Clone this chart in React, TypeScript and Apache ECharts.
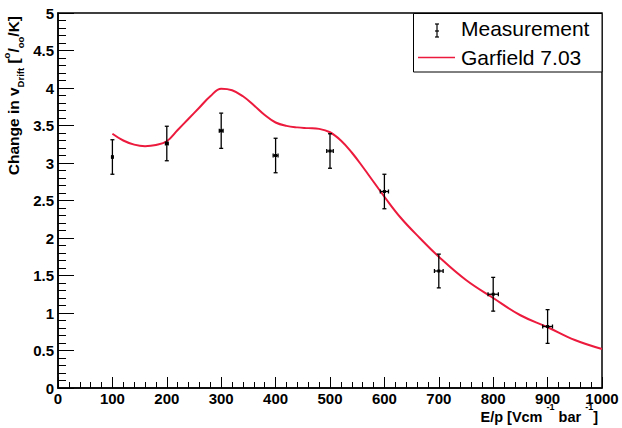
import React, { useEffect, useRef } from "react";
import * as echarts from "echarts";

const xMeas = [100, 200, 300, 400, 500, 600, 700, 800, 900];
const yMeas = [3.08, 3.26, 3.43, 3.1, 3.16, 2.62, 1.56, 1.25, 0.82];
const yErr = [0.23, 0.23, 0.235, 0.23, 0.23, 0.23, 0.225, 0.225, 0.225];
const xErr = [1, 2.5, 3.5, 4.5, 6, 7.5, 8, 9.5, 9];

const curveX = [100, 120, 140, 160, 180, 200, 220, 240, 260, 280, 300, 320, 340, 360, 380, 400, 420, 440, 460, 480, 500, 520, 540, 560, 580, 600, 630, 665, 700, 750, 800, 850, 900, 950, 1000];
const curveY = [3.39, 3.3, 3.245, 3.225, 3.24, 3.29, 3.44, 3.59, 3.74, 3.89, 3.99, 3.97, 3.89, 3.77, 3.64, 3.54, 3.495, 3.475, 3.465, 3.455, 3.41, 3.3, 3.14, 2.95, 2.75, 2.55, 2.27, 2.0, 1.75, 1.44, 1.2, 0.97, 0.81, 0.64, 0.52];

const FONT = "'Liberation Sans', Arial, Helvetica, sans-serif";
const RED = "#ec1a3c";

export default function App() {
  const ref = useRef<HTMLDivElement>(null);
  useEffect(() => {
    if (!ref.current) return;
    const chart = echarts.init(ref.current, null, { renderer: "svg" });
    const measData = xMeas.map((x, i) => [x, yMeas[i], yErr[i], xErr[i]]);
    const curveData = curveX.map((x, i) => [x, curveY[i]]);
    const option: any = {
      animation: false,
      backgroundColor: "#fff",
      grid: {
        left: 58, right: 20, top: 13, bottom: 40,
        show: true, borderColor: "#000", borderWidth: 1.5,
        backgroundColor: "transparent",
        containLabel: false, outerBoundsMode: "none",
      },
      xAxis: {
        type: "value", min: 0, max: 1000, interval: 100,
        axisLine: { show: true, onZero: false, lineStyle: { color: "#000", width: 1.5 } },
        axisTick: { show: true, inside: true, length: 11, lineStyle: { color: "#000", width: 1 } },
        minorTick: { show: true, splitNumber: 5, length: 6, lineStyle: { color: "#000", width: 1 } },
        splitLine: { show: false },
        axisLabel: { color: "#000", fontFamily: FONT, fontWeight: "bold", fontSize: 15, lineHeight: 11, margin: 5, formatter: (v: number) => String(v) },
      },
      yAxis: {
        type: "value", min: 0, max: 5, interval: 0.5,
        axisLine: { show: true, onZero: false, lineStyle: { color: "#000", width: 1.5 } },
        axisTick: { show: true, inside: true, length: 16, lineStyle: { color: "#000", width: 1 } },
        minorTick: { show: true, splitNumber: 5, length: 8, lineStyle: { color: "#000", width: 1 } },
        splitLine: { show: false },
        axisLabel: { color: "#000", fontFamily: FONT, fontWeight: "bold", fontSize: 15, margin: 4, formatter: (v: number) => String(v) },
      },
      series: [
        {
          type: "line",
          name: "Garfield 7.03",
          data: curveData,
          smooth: 0.4,
          showSymbol: false,
          lineStyle: { color: RED, width: 2 },
          z: 2,
        },
        {
          type: "custom",
          name: "Measurement",
          data: measData,
          z: 3,
          renderItem: (params: any, api: any) => {
            const x = api.value(0), y = api.value(1), ye = api.value(2), xe = api.value(3);
            const c = api.coord([x, y]);
            const t = api.coord([x, y + ye]);
            const b = api.coord([x, y - ye]);
            const l = api.coord([x - xe, y]);
            const r = api.coord([x + xe, y]);
            const st = { stroke: "#000", lineWidth: 1.3 };
            return {
              type: "group",
              children: [
                { type: "line", shape: { x1: t[0], y1: t[1], x2: b[0], y2: b[1] }, style: st },
                { type: "line", shape: { x1: t[0] - 2, y1: t[1], x2: t[0] + 2, y2: t[1] }, style: st },
                { type: "line", shape: { x1: b[0] - 2, y1: b[1], x2: b[0] + 2, y2: b[1] }, style: st },
                { type: "line", shape: { x1: l[0], y1: l[1], x2: r[0], y2: r[1] }, style: st },
                { type: "line", shape: { x1: l[0], y1: l[1] - 2, x2: l[0], y2: l[1] + 2 }, style: st },
                { type: "line", shape: { x1: r[0], y1: r[1] - 2, x2: r[0], y2: r[1] + 2 }, style: st },
                { type: "rect", shape: { x: c[0] - 1.5, y: c[1] - 1.5, width: 3, height: 3 }, style: { fill: "#000" } },
              ],
            };
          },
        },
      ],
      graphic: [
        {
          type: "text",
          x: 13.7, y: 16,
          rotation: Math.PI / 2,
          style: {
            text: "{m|Change in v}{s|Drift}{m| [}{p|o}{m|/}{s|oo}{m|/K]}",
            align: "right",
            verticalAlign: "middle",
            fill: "#000",
            font: `bold 15.5px ${FONT}`,
            rich: {
              m: { fontFamily: FONT, fontWeight: "bold", fontSize: 15.5, lineHeight: 24, fill: "#000" },
              s: { fontFamily: FONT, fontWeight: "bold", fontSize: 9.5, lineHeight: 17.8, verticalAlign: "bottom", fill: "#000" },
              p: { fontFamily: FONT, fontWeight: "bold", fontSize: 9.5, lineHeight: 6.8, verticalAlign: "top", fill: "#000" },
            },
          },
        },
        {
          type: "text",
          x: 598, y: 416.5,
          style: {
            text: "{m|E/p [Vcm }{p|-1}{m| bar }{p|-1}{m|]}",
            align: "right",
            verticalAlign: "middle",
            fill: "#000",
            font: `bold 14.5px ${FONT}`,
            rich: {
              m: { fontFamily: FONT, fontWeight: "bold", fontSize: 14.5, lineHeight: 29, fill: "#000" },
              p: { fontFamily: FONT, fontWeight: "bold", fontSize: 9, lineHeight: 9, verticalAlign: "top", fill: "#000" },
            },
          },
        },
        {
          type: "group",
          z: 100,
          children: [
            { type: "rect", shape: { x: 413.5, y: 13.5, width: 188.5, height: 58.5 }, style: { fill: "#fff", stroke: "#000", lineWidth: 1 } },
            { type: "line", shape: { x1: 437, y1: 24, x2: 437, y2: 37 }, style: { stroke: "#000", lineWidth: 1.2 } },
            { type: "line", shape: { x1: 435, y1: 24, x2: 439, y2: 24 }, style: { stroke: "#000", lineWidth: 1.2 } },
            { type: "line", shape: { x1: 435, y1: 37, x2: 439, y2: 37 }, style: { stroke: "#000", lineWidth: 1.2 } },
            { type: "line", shape: { x1: 435, y1: 31, x2: 439, y2: 31 }, style: { stroke: "#000", lineWidth: 1.2 } },
            { type: "text", x: 461, y: 28.5, style: { text: "Measurement", font: `21px ${FONT}`, fill: "#000", verticalAlign: "middle", align: "left" } },
            { type: "line", shape: { x1: 418, y1: 57.5, x2: 455, y2: 57.5 }, style: { stroke: RED, lineWidth: 1.5 } },
            { type: "text", x: 461, y: 57.5, style: { text: "Garfield 7.03", font: `21px ${FONT}`, fill: "#000", verticalAlign: "middle", align: "left" } },
          ],
        },
      ],
    };
    chart.setOption(option);
    return () => chart.dispose();
  }, []);
  return <div ref={ref} style={{ position: "absolute", left: 0, top: 0, width: 622, height: 428 }} />;
}
